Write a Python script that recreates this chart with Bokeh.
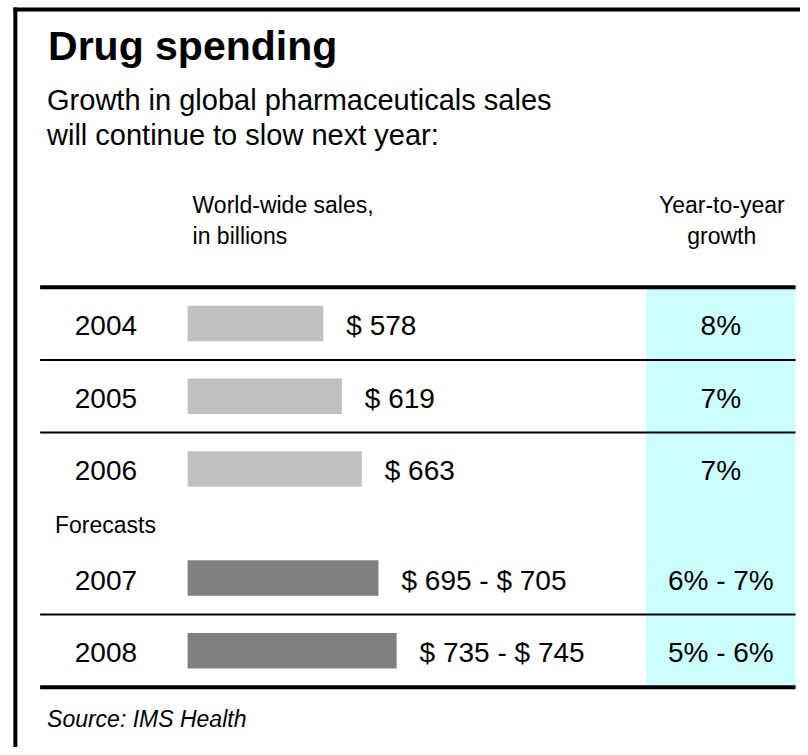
from bokeh.plotting import figure
from bokeh.models import Range1d, ColumnDataSource
from bokeh.core.properties import value
from bokeh.embed import file_html
from bokeh.resources import INLINE

# ---------------- data ----------------
years = ["2004", "2005", "2006", "2007", "2008"]
is_forecast = [False, False, False, True, True]
sales_low = [578, 619, 663, 695, 735]
sales_high = [578, 619, 663, 705, 745]
growth_low = [8, 7, 7, 6, 5]
growth_high = [8, 7, 7, 7, 6]

title = "Drug spending"
subtitle = ["Growth in global pharmaceuticals sales", "will continue to slow next year:"]
head_sales = ["World-wide sales,", "in billions"]
head_growth = ["Year-to-year", "growth"]
forecast_label = "Forecasts"
source = "Source: IMS Health"

FONT = value("Liberation Sans")

# ---------------- layout (reference pixel space 808x755) ----------------
W, H = 800, 747
REF_W, REF_H = 808, 755
ROW0_Y = 326.5
ROW_PITCH = 73.5
BAR_H = 36
TABLE_X0, TABLE_X1 = 40, 803
CYAN_X0 = 652
GROWTH_X = (CYAN_X0 + TABLE_X1) / 2
YEAR_X = 75
BAR_LEFT_PX = 189
BAR_BASE = 278          # value at which bars start (truncated scale)
PX_PER_BN = 0.4568
MID = 0.34              # baseline -> em-box middle, in em

def row_y(r):
    return ROW0_Y + ROW_PITCH * r

def mid(baseline, size):
    return baseline - MID * size

rows = [i + (0.5 if f else 0.0) for i, f in enumerate(is_forecast)]
ys = [row_y(r) for r in rows]
bar_val = [(lo + hi) / 2 for lo, hi in zip(sales_low, sales_high)]
sales_txt = [f"$ {lo}" if lo == hi else f"$ {lo} - $ {hi}" for lo, hi in zip(sales_low, sales_high)]
growth_txt = [f"{lo}%" if lo == hi else f"{lo}% - {hi}%" for lo, hi in zip(growth_low, growth_high)]
bar_col = ["#808080" if f else "#c0c0c0" for f in is_forecast]

p = figure(width=W, height=H, output_backend="svg", toolbar_location=None,
           x_range=Range1d(0, REF_W), y_range=Range1d(REF_H, 0),
           min_border=0, outline_line_color=None, background_fill_color="white",
           x_axis_location=None, y_axis_location=None)
p.grid.visible = False
sx0 = BAR_BASE - BAR_LEFT_PX / PX_PER_BN
sx1 = BAR_BASE + (REF_W - BAR_LEFT_PX) / PX_PER_BN
p.extra_x_ranges = {"sales": Range1d(sx0, sx1)}

top_line_y = row_y(rows[0] - 0.5)
bot_line_y = row_y(rows[-1] + 0.5)

# cyan growth column
p.quad(left=[CYAN_X0], right=[TABLE_X1], top=[top_line_y], bottom=[bot_line_y],
       fill_color="#ccffff", line_color=None)

# frame border (top and left)
p.segment(x0=[13, 15], y0=[9, 7], x1=[REF_W, 15], y1=[9, REF_H],
          line_color="black", line_width=4)

# separator lines
thin = []
for i in range(len(rows) - 1):
    if rows[i + 1] - rows[i] == 1.0:
        thin.append(row_y((rows[i] + rows[i + 1]) / 2))
p.segment(x0=[TABLE_X0] * len(thin), x1=[TABLE_X1] * len(thin), y0=thin, y1=thin,
          line_color="black", line_width=2)
p.segment(x0=[TABLE_X0, TABLE_X0], x1=[TABLE_X1, TABLE_X1],
          y0=[top_line_y, bot_line_y], y1=[top_line_y, bot_line_y],
          line_color="black", line_width=4)

ROW_FS = 28
src = ColumnDataSource(dict(y=ys, ty=[mid(y + 11.5, ROW_FS) for y in ys], val=bar_val,
                            base=[BAR_BASE] * len(ys), col=bar_col,
                            years=years, sales=sales_txt, growth=growth_txt,
                            yx=[YEAR_X] * len(ys), gx=[GROWTH_X] * len(ys)))

p.hbar(y="y", left="base", right="val", height=BAR_H, fill_color="col",
       line_color=None, source=src, x_range_name="sales")

fs = f"{ROW_FS}px"
p.text(x="yx", y="ty", text="years", source=src, text_font=FONT,
       text_font_size=fs, text_baseline="middle", text_align="left", text_color="black")
p.text(x="val", y="ty", text="sales", source=src, x_range_name="sales", x_offset=23,
       text_font=FONT, text_font_size=fs, text_baseline="middle",
       text_align="left", text_color="black")
p.text(x="gx", y="ty", text="growth", source=src, text_font=FONT,
       text_font_size=fs, text_baseline="middle", text_align="center", text_color="black")

# titles and headers
p.text(x=[48], y=[mid(60, 41)], text=[title], text_font=FONT, text_font_size="41px",
       text_font_style="bold", text_baseline="middle", text_color="black")
p.text(x=[47, 47], y=[mid(110, 29), mid(146, 29)], text=subtitle, text_font=FONT,
       text_font_size="29px", text_baseline="middle", text_color="black")
p.text(x=[194, 194], y=[mid(215, 23), mid(246, 23)], text=head_sales, text_font=FONT,
       text_font_size="23px", text_baseline="middle", text_color="black")
p.text(x=[GROWTH_X + 1, GROWTH_X + 1], y=[mid(215, 23), mid(246, 23)], text=head_growth,
       text_font=FONT, text_font_size="23px", text_baseline="middle", text_align="center",
       text_color="black")
p.text(x=[55], y=[mid(538, 23)], text=[forecast_label], text_font=FONT, text_font_size="23px",
       text_baseline="middle", text_color="black")
p.text(x=[47], y=[mid(734, 23)], text=[source], text_font=FONT, text_font_size="23px",
       text_font_style="italic", text_baseline="middle", text_color="black")

open("out.html", "w").write(file_html(p, INLINE))
